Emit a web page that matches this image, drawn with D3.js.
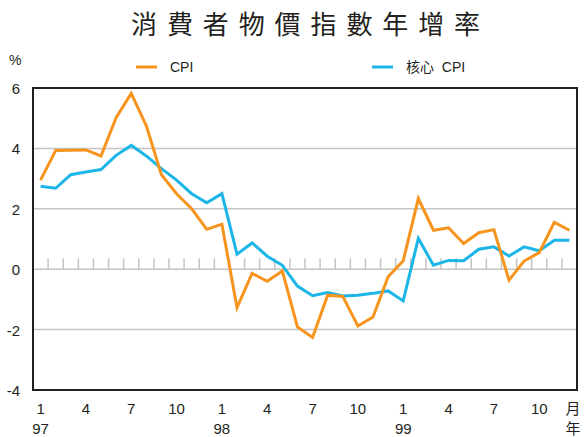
<!DOCTYPE html>
<html>
<head>
<meta charset="utf-8">
<script src="https://cdn.jsdelivr.net/npm/d3@7"></script>
<style>
  body { margin: 0; background: #fff; }
  text { font-family: "Liberation Sans", Arial, "Noto Sans CJK TC", sans-serif; fill: #231f20; }
</style>
</head>
<body>
<svg id="chart"></svg>
<script>
const WIDTH = 584;
const HEIGHT = 437;

// Jan 1997 .. Dec 1999
const months = d3.range(36);
const monthLabels = ['1', '4', '7', '10', '1', '4', '7', '10', '1', '4', '7', '10'];
const yearLabels = ['97', '98', '99'];
const yTicks = [6, 4, 2, 0, -2, -4];

const cpi = [
    2.95, 3.93, 3.94, 3.95, 3.75, 5.02, 5.82, 4.75, 3.13, 2.5, 2.0, 1.32,
    1.49, -1.27, -0.14, -0.4, -0.06, -1.91, -2.26, -0.86, -0.9, -1.88, -1.58, -0.25,
    0.28, 2.34, 1.29, 1.37, 0.85, 1.21, 1.31, -0.36, 0.27, 0.55, 1.55, 1.29
];
const coreCpi = [
    2.75, 2.68, 3.13, 3.22, 3.3, 3.77, 4.1, 3.75, 3.33, 2.95, 2.5, 2.2,
    2.5, 0.5, 0.87, 0.43, 0.13, -0.56, -0.88, -0.77, -0.89, -0.86, -0.8, -0.72,
    -1.05, 1.02, 0.13, 0.29, 0.28, 0.66, 0.74, 0.44, 0.74, 0.61, 0.96, 0.96
];

const ORANGE = '#f7941d';
const BLUE = '#1cb5e8';

const svg = d3.select('#chart')
    .attr('width', WIDTH)
    .attr('height', HEIGHT);

const margin = { left: 33, right: 7, top: 88, bottom: 47 };

const x = d3.scaleLinear()
    .domain([-0.5, 35.5])
    .range([margin.left, WIDTH - margin.right]);

const y = d3.scaleLinear()
    .domain([-4, 6])
    .range([HEIGHT - margin.bottom, margin.top]);

// title
svg.append('text')
    .attr('x', 131)
    .attr('y', 34)
    .style('font-family', '"Noto Sans CJK TC", sans-serif')
    .style('font-size', '26px')
    .style('letter-spacing', '9.9px')
    .text('消費者物價指數年增率');

svg.append('text')
    .attr('x', 9)
    .attr('y', 65)
    .style('font-size', '14px')
    .text('%');

// legend
const legend = [
    { name: 'CPI', color: ORANGE, x: 136 },
    { name: '核心  CPI', color: BLUE, x: 372 }
];
const lg = svg.selectAll('.legend')
    .data(legend)
    .join('g')
    .attr('class', 'legend')
    .attr('transform', d => `translate(${d.x},67)`);
lg.append('line')
    .attr('x1', 0).attr('x2', 21)
    .attr('stroke', d => d.color)
    .attr('stroke-width', 3);
lg.append('text')
    .attr('x', 34)
    .attr('y', 5)
    .style('font-size', '14px')
    .style('white-space', 'pre')
    .text(d => d.name);

// gridlines
svg.append('g')
    .selectAll('line')
    .data(yTicks.filter(d => d > -4 && d < 6))
    .join('line')
    .attr('x1', x.range()[0])
    .attr('x2', x.range()[1])
    .attr('y1', d => y(d))
    .attr('y2', d => y(d))
    .attr('stroke', '#c4c4c4')
    .attr('stroke-width', 1.5);

// month ticks sitting on the zero line
svg.append('g')
    .selectAll('line')
    .data(months.slice(1))
    .join('line')
    .attr('x1', d => x(d - 0.5))
    .attr('x2', d => x(d - 0.5))
    .attr('y1', y(0))
    .attr('y2', y(0) - 11)
    .attr('stroke', '#c4c4c4')
    .attr('stroke-width', 1.5);

// y labels
svg.append('g')
    .selectAll('text')
    .data(yTicks)
    .join('text')
    .attr('x', 20)
    .attr('y', d => y(d) + 6)
    .attr('text-anchor', 'end')
    .style('font-size', '15px')
    .text(d => d);

// x labels
svg.append('g')
    .selectAll('text')
    .data(monthLabels)
    .join('text')
    .attr('x', (d, i) => x(i * 3))
    .attr('y', 414)
    .attr('text-anchor', 'middle')
    .style('font-size', '15px')
    .text(d => d);

svg.append('g')
    .selectAll('text')
    .data(yearLabels)
    .join('text')
    .attr('x', (d, i) => x(i * 12))
    .attr('y', 434)
    .attr('text-anchor', 'middle')
    .style('font-size', '15px')
    .text(d => d);

svg.append('text')
    .attr('x', 573).attr('y', 414)
    .attr('text-anchor', 'middle')
    .style('font-size', '15px')
    .style('font-family', '"Noto Sans CJK TC", sans-serif')
    .text('月');
svg.append('text')
    .attr('x', 573).attr('y', 434)
    .attr('text-anchor', 'middle')
    .style('font-size', '15px')
    .style('font-family', '"Noto Sans CJK TC", sans-serif')
    .text('年');

// lines
const line = d3.line()
    .x((d, i) => x(i))
    .y(d => y(d));

svg.append('path')
    .datum(coreCpi)
    .attr('fill', 'none')
    .attr('stroke', BLUE)
    .attr('stroke-width', 3)
    .attr('d', line);

svg.append('path')
    .datum(cpi)
    .attr('fill', 'none')
    .attr('stroke', ORANGE)
    .attr('stroke-width', 3)
    .attr('d', line);

// frame
svg.append('rect')
    .attr('x', x.range()[0])
    .attr('y', y(6))
    .attr('width', x.range()[1] - x.range()[0])
    .attr('height', y(-4) - y(6))
    .attr('fill', 'none')
    .attr('stroke', '#231f20')
    .attr('stroke-width', 2);
</script>
</body>
</html>
